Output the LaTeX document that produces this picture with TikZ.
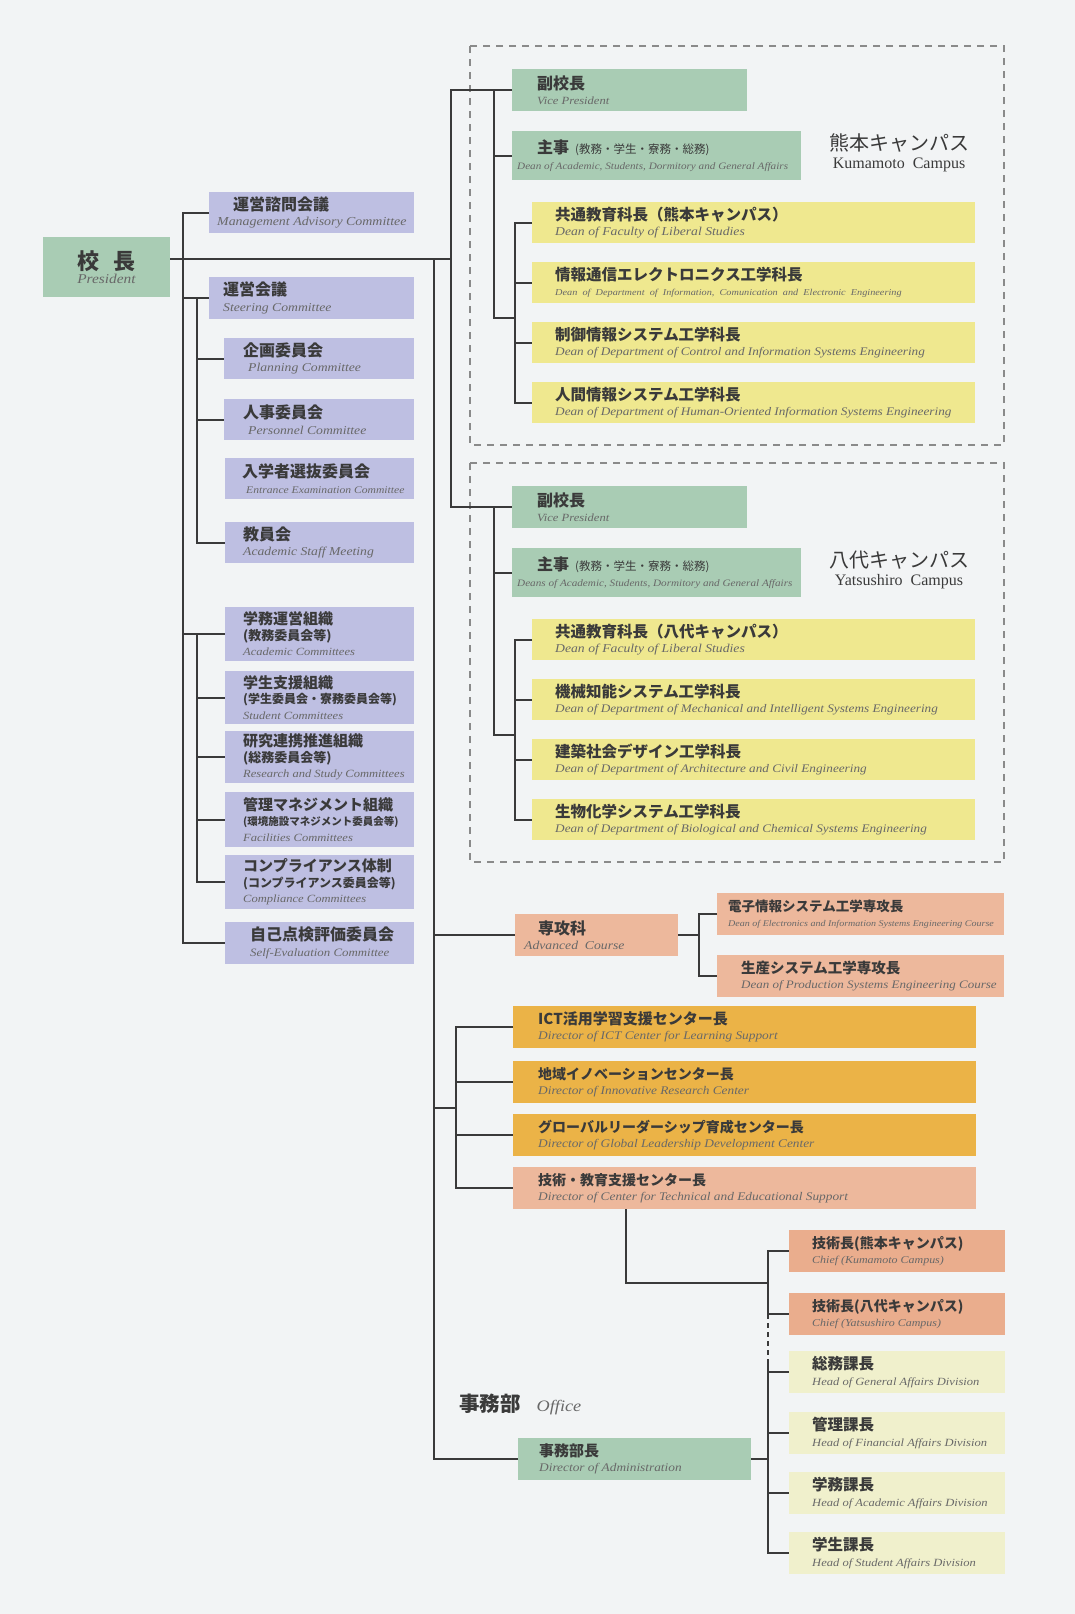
\documentclass[tikz,border=0pt]{standalone}
\usepackage{fontspec}
\newfontfamily\jpf{Noto Sans CJK JP}
\newfontfamily\enf{Liberation Serif}[FakeStretch=1.14]
\newfontfamily\enr{Liberation Serif}
\definecolor{bgc}{HTML}{F2F4F5}
\definecolor{lnc}{HTML}{3A3A3A}
\definecolor{dshc}{HTML}{8A8A8A}
\definecolor{jpc}{HTML}{3A3A3A}
\definecolor{enc}{HTML}{686868}
\definecolor{grnc}{HTML}{A9CCB4}
\definecolor{lavc}{HTML}{BEBFE2}
\definecolor{ylwc}{HTML}{EFE88F}
\definecolor{salc}{HTML}{EDB89C}
\definecolor{orgc}{HTML}{EBB347}
\definecolor{chfc}{HTML}{EAAD8D}
\definecolor{pylc}{HTML}{F0F0CC}
% Japanese and English text of a box
\newcommand\jtxt[2][16]{{\jpf\bfseries\fontsize{#1}{#1}\selectfont\color{jpc}#2}}
\newcommand\jreg[2][12]{{\jpf\fontsize{#1}{#1}\selectfont\color{jpc}#2}}
\newcommand\etxt[2][12]{{\enf\itshape\fontsize{#1}{#1}\selectfont\color{enc}#2}}
% #1 style, #2 name, #3 x, #4 y (top left), #5 width, #6 height, #7 text indent, #8 text
\newcommand\obox[8]{%
  \node[#1, minimum width=#5, minimum height=#6, anchor=north west] (#2) at (#3,#4) {};
  \node[lbl, anchor=west] at ([xshift=#7]#2.west) {#8};}
\begin{document}
\begin{tikzpicture}[x=1pt,y=-1pt,
  conn/.style={draw=lnc, line width=2pt},
  bxbase/.style={draw=none, inner sep=0pt, outer sep=0pt},
  grn/.style={bxbase, fill=grnc},
  lav/.style={bxbase, fill=lavc},
  ylw/.style={bxbase, fill=ylwc},
  sal/.style={bxbase, fill=salc},
  org/.style={bxbase, fill=orgc},
  chf/.style={bxbase, fill=chfc},
  pyl/.style={bxbase, fill=pylc},
  lbl/.style={inner sep=0pt, align=left, font=\fontsize{11}{15.5}\selectfont},
  campusbox/.style={draw=dshc, line width=2.4pt, dash pattern=on 7pt off 6pt}]

\fill[bgc] (0,0) rectangle (1075,1614);
\useasboundingbox (0,0) rectangle (1075,1614);

% ---------- campus frames ----------
\draw[campusbox] (470,46) rectangle (1004,445);
\draw[campusbox] (470,463) rectangle (1004,862);

% ---------- president ----------
\node[grn, minimum width=127, minimum height=60, anchor=north west] (pres) at (43,237) {};
\node[lbl, align=center] at (pres.center) {\jtxt[22]{校\hspace{0.6em}長}\\[-2pt]\etxt[13.5]{President}};

% ---------- committees ----------
\obox{lav}{advis}{209}{192}{205}{41}{8}{\hspace*{16pt}\jtxt{運営諮問会議}\\\etxt[12.2]{Management Advisory Committee}}
\obox{lav}{steer}{209}{277}{205}{42}{14}{\jtxt{運営会議}\\\etxt{Steering Committee}}
\obox{lav}{plan}{224}{338}{190}{41}{19}{\jtxt{企画委員会}\\\hspace*{5pt}\etxt{Planning Committee}}
\obox{lav}{pers}{224}{399}{190}{41}{19}{\jtxt{人事委員会}\\\hspace*{5pt}\etxt{Personnel Committee}}
\obox{lav}{entr}{225}{458}{189}{41}{17}{\jtxt{入学者選抜委員会}\\\hspace*{4pt}\etxt[10.2]{Entrance Examination Committee}}
\obox{lav}{staff}{225}{522}{189}{41}{18}{\jtxt{教員会}\\\etxt{Academic Staff Meeting}}
\obox{lav}{gakumu}{225}{607}{189}{54}{18}{\jtxt[15]{学務運営組織}\\\jtxt[13]{(教務委員会等)}\\\etxt[11]{Academic Committees}}
\obox{lav}{stud}{225}{671}{189}{53}{18}{\jtxt[15]{学生支援組織}\\\jtxt[12]{(学生委員会・寮務委員会等)}\\\etxt[11]{Student Committees}}
\obox{lav}{resr}{225}{731}{189}{52}{18}{\jtxt[15]{研究連携推進組織}\\\jtxt[13]{(総務委員会等)}\\\etxt[11]{Research and Study Committees}}
\obox{lav}{facil}{225}{792}{189}{55}{18}{\jtxt[15]{管理マネジメント組織}\\\jtxt[10.5]{(環境施設マネジメント委員会等)}\\\etxt[11]{Facilities Committees}}
\obox{lav}{comp}{225}{855}{189}{54}{18}{\jtxt[15]{コンプライアンス体制}\\\jtxt[12]{(コンプライアンス委員会等)}\\\etxt[11]{Compliance Committees}}
\obox{lav}{selfev}{225}{922}{189}{42}{25}{\jtxt{自己点検評価委員会}\\\etxt[11.3]{Self-Evaluation Committee}}

% ---------- Kumamoto campus ----------
\obox{grn}{kvp}{512}{69}{235}{42}{25}{\jtxt{副校長}\\\etxt[11]{Vice President}}
\obox{grn}{kdean}{512}{131}{289}{49}{5}{\hspace*{20pt}\jtxt{主事}\hspace{6pt}\jreg[11.5]{(教務・学生・寮務・総務)}\\\etxt[9.8]{Dean of Academic, Students, Dormitory and General Affairs}}
\node[lbl, align=center] (klab) at (899,143) {\jpf\fontsize{20}{20}\selectfont\color{jpc}熊本キャンパス};
\node[lbl, align=center] (klabe) at (899,165) {\enr\fontsize{16}{16}\selectfont\color{jpc}Kumamoto~~Campus};
\obox{ylw}{ky1}{532}{202}{443}{41}{23}{\jtxt[15.5]{共通教育科長（熊本キャンパス）}\\\etxt{Dean of Faculty of Liberal Studies}}
\obox{ylw}{ky2}{532}{262}{443}{41}{23}{\jtxt[15.5]{情報通信エレクトロニクス工学科長}\\\etxt[9]{Dean~~of~~Department~~of~~Information,~~Comunication~~and~~Electronic~~Engineering}}
\obox{ylw}{ky3}{532}{322}{443}{41}{23}{\jtxt[15.5]{制御情報システム工学科長}\\\etxt[11.6]{Dean of Department of Control and Information Systems Engineering}}
\obox{ylw}{ky4}{532}{382}{443}{41}{23}{\jtxt[15.5]{人間情報システム工学科長}\\\etxt[11.6]{Dean of Department of Human-Oriented Information Systems Engineering}}

% ---------- Yatsushiro campus ----------
\obox{grn}{yvp}{512}{486}{235}{42}{25}{\jtxt{副校長}\\\etxt[11]{Vice President}}
\obox{grn}{ydean}{512}{548}{289}{49}{5}{\hspace*{20pt}\jtxt{主事}\hspace{6pt}\jreg[11.5]{(教務・学生・寮務・総務)}\\\etxt[9.8]{Deans of Academic, Students, Dormitory and General Affairs}}
\node[lbl, align=center] (ylab) at (899,560) {\jpf\fontsize{20}{20}\selectfont\color{jpc}八代キャンパス};
\node[lbl, align=center] (ylabe) at (899,582) {\enr\fontsize{16}{16}\selectfont\color{jpc}Yatsushiro~~Campus};
\obox{ylw}{yy1}{532}{619}{443}{41}{23}{\jtxt[15.5]{共通教育科長（八代キャンパス）}\\\etxt{Dean of Faculty of Liberal Studies}}
\obox{ylw}{yy2}{532}{679}{443}{41}{23}{\jtxt[15.5]{機械知能システム工学科長}\\\etxt[11.6]{Dean of Department of Mechanical and Intelligent Systems Engineering}}
\obox{ylw}{yy3}{532}{739}{443}{41}{23}{\jtxt[15.5]{建築社会デザイン工学科長}\\\etxt[11.6]{Dean of Department of Architecture and Civil Engineering}}
\obox{ylw}{yy4}{532}{799}{443}{41}{23}{\jtxt[15.5]{生物化学システム工学科長}\\\etxt[11.6]{Dean of Department of Biological and Chemical Systems Engineering}}

% ---------- advanced course ----------
\obox{sal}{adv}{515}{914}{163}{42}{9}{\hspace*{14pt}\jtxt{専攻科}\\\etxt[12]{Advanced~~Course}}
\obox{sal}{elec}{717}{893}{287}{42}{11}{\jtxt[13.5]{電子情報システム工学専攻長}\\\etxt[8.8]{Dean of Electronics and Information Systems Engineering Course}}
\obox{sal}{prod}{717}{955}{287}{42}{24}{\jtxt[14.5]{生産システム工学専攻長}\\\etxt[11.4]{Dean of Production Systems Engineering Course}}

% ---------- centers ----------
\obox{org}{ict}{513}{1006}{463}{42}{25}{\jtxt[15]{ICT活用学習支援センター長}\\\etxt[11.7]{Director of ICT Center for Learning Support}}
\obox{org}{inno}{513}{1061}{463}{42}{25}{\jtxt[14]{地域イノベーションセンター長}\\\etxt[11.7]{Director of Innovative Research Center}}
\obox{org}{glob}{513}{1114}{463}{42}{25}{\jtxt[14]{グローバルリーダーシップ育成センター長}\\\etxt[11.7]{Director of Global Leadership Development Center}}
\obox{sal}{tech}{513}{1167}{463}{42}{25}{\jtxt[14]{技術・教育支援センター長}\\\etxt[11.7]{Director of Center for Technical and Educational Support}}
\obox{chf}{chk}{789}{1230}{216}{42}{23}{\jtxt[14]{技術長(熊本キャンパス)}\\\etxt[10.5]{Chief (Kumamoto Campus)}}
\obox{chf}{chy}{789}{1293}{216}{42}{23}{\jtxt[14]{技術長(八代キャンパス)}\\\etxt[10.5]{Chief (Yatsushiro Campus)}}

% ---------- office ----------
\node[lbl, anchor=west] (office) at (459,1404) {\jtxt[20.5]{事務部}\hspace{16pt}\etxt[16]{Office}};
\obox{grn}{jimu}{518}{1438}{233}{42}{21}{\jtxt[15]{事務部長}\\\etxt[11.7]{Director of Administration}}
\obox{pyl}{gen}{789}{1351}{216}{42}{23}{\jtxt[15.5]{総務課長}\\\etxt[11]{Head of General Affairs Division}}
\obox{pyl}{fin}{789}{1412}{216}{42}{23}{\jtxt[15.5]{管理課長}\\\etxt[11]{Head of Financial Affairs Division}}
\obox{pyl}{aca}{789}{1472}{216}{42}{23}{\jtxt[15.5]{学務課長}\\\etxt[11]{Head of Academic Affairs Division}}
\obox{pyl}{stu}{789}{1532}{216}{42}{23}{\jtxt[15.5]{学生課長}\\\etxt[11]{Head of Student Affairs Division}}

% ---------- spine positions ----------
\coordinate (sL) at (183,0);   % committee spine
\coordinate (sI) at (197,0);   % committee sub-spines
\coordinate (sM) at (434,0);   % main spine
\coordinate (sK) at (451,0);   % campus spine
\coordinate (kI) at (494,0);   % campus inner spine
\coordinate (kY) at (515,0);   % department spine
\coordinate (sB) at (699,0);   % advanced course spine
\coordinate (sC) at (456,0);   % centers spine
\coordinate (sD) at (626,0);   % technical center drop
\coordinate (sT) at (768,0);   % office spine
\coordinate (pline) at ([yshift=8pt]pres.east);
\coordinate (kJ) at (515,318);
\coordinate (yJ) at (515,735);
\coordinate (cJ) at (456,1108);
\coordinate (tJ) at (768,1283);
\coordinate (dJ) at (768,1362);

% ---------- connectors: committees ----------
\draw[conn] (pline) -- (pline -| sK);
\draw[conn] (advis.west) -- (advis.west -| sL) -- (selfev.west -| sL) -- (selfev.west);
\draw[conn] (steer.west -| sL) -- (steer.west);
\draw[conn] (steer.west -| sI) -- (staff.west -| sI) -- (staff.west);
\draw[conn] (plan.west -| sI) -- (plan.west);
\draw[conn] (pers.west -| sI) -- (pers.west);
\draw[conn] (gakumu.west -| sL) -- (gakumu.west);
\draw[conn] (gakumu.west -| sI) -- (comp.west -| sI) -- (comp.west);
\draw[conn] (stud.west -| sI) -- (stud.west);
\draw[conn] (resr.west -| sI) -- (resr.west);
\draw[conn] (facil.west -| sI) -- (facil.west);

% ---------- connectors: campuses ----------
\draw[conn] (kvp.west) -- (kvp.west -| sK) -- (yvp.west -| sK) -- (yvp.west);
\draw[conn] (kvp.west -| kI) -- (kJ -| kI) -- (kJ);
\draw[conn] (kdean.west -| kI) -- (kdean.west);
\draw[conn] (ky1.west) -- (ky1.west -| kY) -- (ky4.west -| kY) -- (ky4.west);
\draw[conn] (ky2.west -| kY) -- (ky2.west);
\draw[conn] (ky3.west -| kY) -- (ky3.west);
\draw[conn] (yvp.west -| kI) -- (yJ -| kI) -- (yJ);
\draw[conn] (ydean.west -| kI) -- (ydean.west);
\draw[conn] (yy1.west) -- (yy1.west -| kY) -- (yy4.west -| kY) -- (yy4.west);
\draw[conn] (yy2.west -| kY) -- (yy2.west);
\draw[conn] (yy3.west -| kY) -- (yy3.west);

% ---------- connectors: main spine ----------
\draw[conn] (pline -| sM) -- (jimu.west -| sM) -- (jimu.west);
\draw[conn] (adv.west -| sM) -- (adv.west);
\draw[conn] (adv.east) -- (adv.east -| sB);
\draw[conn] (elec.west) -- (elec.west -| sB) -- (prod.west -| sB) -- (prod.west);
\draw[conn] (cJ -| sM) -- (cJ);
\draw[conn] (ict.west) -- (ict.west -| sC) -- (tech.west -| sC) -- (tech.west);
\draw[conn] (inno.west -| sC) -- (inno.west);
\draw[conn] (glob.west -| sC) -- (glob.west);
\draw[conn] (tech.south -| sD) -- (tJ -| sD) -- (tJ);
\draw[conn] (chk.west) -- (chk.west -| sT) -- (chy.west -| sT) -- (chy.west);
\draw[conn, dash pattern=on 5pt off 4pt] (chy.west -| sT) -- (dJ);
\draw[conn] (dJ) -- (stu.west -| sT) -- (stu.west);
\draw[conn] (gen.west -| sT) -- (gen.west);
\draw[conn] (fin.west -| sT) -- (fin.west);
\draw[conn] (aca.west -| sT) -- (aca.west);
\draw[conn] (jimu.east) -- (jimu.east -| sT);
\end{tikzpicture}
\end{document}
